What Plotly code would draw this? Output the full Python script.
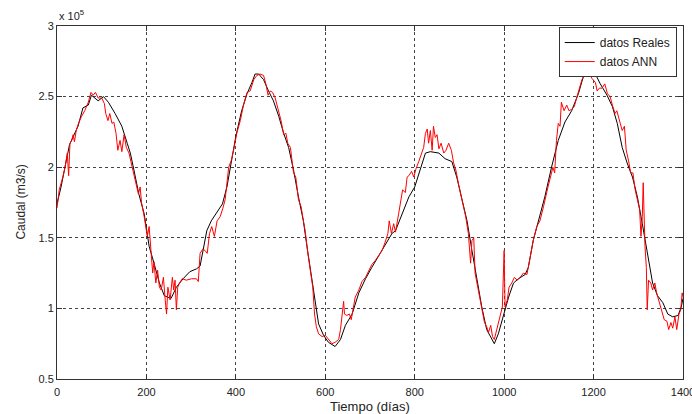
import plotly.graph_objects as go

# Observed (black) series: day, flow in units of 1e5 m3/s
real_days = [0, 9, 28, 47, 58, 70, 77, 92, 104, 115, 130, 145, 157, 164, 172, 183, 195, 206, 217, 229,
             240, 255, 267, 282, 297, 312, 320, 327, 335, 345, 358, 370, 380, 390, 400,
             413, 425, 436, 443, 451, 462, 473, 484, 496, 507, 518, 529, 540, 551, 559, 570, 578, 585,
             596, 607, 622, 634, 645, 660, 675, 690, 704, 719, 734, 749,
             757, 772, 787, 800, 813, 824, 835, 854, 868, 883, 894, 906, 917, 928, 939, 950, 961, 972,
             978, 987, 999, 1010, 1021, 1032, 1047, 1054, 1065, 1077, 1091,
             1106, 1121, 1136, 1151, 1166, 1177, 1192, 1204, 1215, 1230, 1242, 1253, 1264, 1275, 1287,
             1298, 1309, 1321, 1332, 1343, 1355, 1366, 1377, 1389, 1396, 1400]
real_vals = [1.74, 1.86, 2.16, 2.29, 2.42, 2.44, 2.51, 2.47, 2.50, 2.46, 2.38, 2.29, 2.17, 2.10, 1.98, 1.81, 1.67, 1.44, 1.32, 1.18,
             1.09, 1.07, 1.15, 1.21, 1.26, 1.28, 1.30, 1.42, 1.55, 1.62, 1.68, 1.74, 1.86, 2.05, 2.22,
             2.40, 2.52, 2.60, 2.66, 2.66, 2.62, 2.54, 2.47, 2.36, 2.24, 2.14, 1.98, 1.79, 1.62, 1.44, 1.22, 1.04, 0.89,
             0.81, 0.76, 0.73, 0.78, 0.88, 0.96, 1.11, 1.21, 1.29, 1.37, 1.46, 1.53,
             1.55, 1.67, 1.79, 1.86, 2.00, 2.10, 2.11, 2.10, 2.06, 2.04, 1.93, 1.77, 1.62, 1.41, 1.20, 1.01, 0.85, 0.79,
             0.75, 0.82, 0.96, 1.08, 1.18, 1.21, 1.24, 1.29, 1.48, 1.62, 1.79,
             2.00, 2.19, 2.32, 2.40, 2.52, 2.64, 2.68, 2.66, 2.59, 2.51, 2.43, 2.31, 2.14, 2.03, 1.93,
             1.79, 1.60, 1.39, 1.18, 1.09, 1.04, 0.96, 0.94, 0.95, 1.01, 1.07]

# ANN (red) series
ann_days = [0, 5, 13, 18, 23, 26, 29, 33, 36, 39, 43, 48, 55, 62, 70, 76, 81, 86, 92, 100,
            106, 109, 114, 118, 123, 127, 132, 136, 141, 145, 150, 155, 161, 168, 176, 182, 186, 189, 195, 198,
            202, 206, 210, 214, 217, 221, 225, 229, 233, 238, 242, 245, 248, 253, 258, 261, 264, 267, 270, 274,
            280, 289, 301, 312, 316, 320, 326, 331, 336, 341, 346, 352, 358, 365, 371,
            376, 384, 390, 395, 402, 410, 417, 425, 432, 440, 447, 454, 462, 467, 472, 477, 482, 488, 496,
            501, 507, 512, 516, 522, 529, 534, 540, 546, 551, 555, 561, 566, 572, 576, 580, 585, 593, 600,
            607, 615, 622, 630, 634, 637, 641, 643, 648, 654, 658, 663, 667, 675, 682, 690, 697, 704, 712,
            719, 727, 734, 740, 743, 748, 753,
            757, 764, 770, 773, 779, 783, 787, 793, 798, 803, 809, 815, 820, 824, 828, 831, 835, 839, 842,
            846, 850, 854, 859, 865, 870, 876, 882, 887, 892, 898, 904, 909, 914, 920, 925, 928, 932, 935,
            941, 946, 952, 956, 961, 965, 970, 974, 978, 983, 987, 992, 996, 1000, 1002, 1007, 1011, 1017,
            1023, 1029, 1036, 1043, 1051, 1054, 1060, 1065, 1073, 1080, 1088,
            1091, 1098, 1106, 1109, 1113, 1117, 1121, 1125, 1128, 1134, 1140, 1145, 1151, 1157, 1162, 1168,
            1174, 1180, 1185, 1190, 1196, 1204, 1208, 1213, 1219, 1225, 1231, 1237, 1242, 1248, 1252, 1258,
            1264, 1269, 1273, 1278, 1283, 1288, 1293, 1298, 1303, 1306, 1309, 1311, 1313, 1315, 1318, 1320,
            1323, 1328, 1332, 1337, 1341, 1347, 1353, 1358, 1364, 1368, 1373, 1377, 1382, 1386, 1391, 1395,
            1398, 1402]
ann_vals = [1.71, 1.84, 1.93, 2.00, 2.10, 1.94, 2.17, 2.19, 2.23, 2.18, 2.26, 2.31, 2.36, 2.40, 2.46, 2.53, 2.51, 2.53, 2.49, 2.49,
            2.45, 2.38, 2.33, 2.38, 2.31, 2.32, 2.24, 2.12, 2.19, 2.11, 2.23, 2.14, 2.10, 2.00, 1.88, 1.81, 1.86, 1.75, 1.65, 1.58,
            1.51, 1.58, 1.39, 1.25, 1.33, 1.18, 1.27, 1.15, 1.13, 1.22, 1.06, 0.96, 1.15, 1.06, 1.22, 1.13, 1.20, 0.99, 1.15, 1.18,
            1.21, 1.20, 1.21, 1.21, 1.19, 1.39, 1.42, 1.41, 1.39, 1.53, 1.58, 1.51, 1.62, 1.65, 1.71,
            1.77, 2.00, 2.05, 2.12, 2.24, 2.33, 2.44, 2.53, 2.54, 2.62, 2.65, 2.66, 2.65, 2.59, 2.51, 2.54, 2.53, 2.49, 2.40,
            2.33, 2.23, 2.24, 2.17, 2.14, 1.96, 1.93, 1.77, 1.72, 1.62, 1.55, 1.39, 1.29, 1.15, 0.96, 0.87, 0.82, 0.80, 0.81,
            0.78, 0.75, 0.76, 0.78, 0.85, 0.94, 1.05, 0.96, 0.95, 0.96, 0.92, 1.01, 1.08, 1.13, 1.19, 1.22, 1.26, 1.31, 1.34,
            1.37, 1.41, 1.47, 1.53, 1.62, 1.53, 1.60,
            1.54, 1.67, 1.77, 1.84, 1.82, 1.93, 1.94, 1.97, 1.93, 1.99, 2.04, 2.10, 2.14, 2.24, 2.27, 2.17, 2.26, 2.12, 2.29,
            2.21, 2.23, 2.13, 2.17, 2.10, 2.12, 2.17, 2.12, 2.03, 1.98, 1.88, 1.79, 1.74, 1.65, 1.53, 1.32, 1.48, 1.50, 1.25,
            1.15, 1.08, 0.96, 0.90, 0.87, 0.83, 0.88, 0.80, 0.78, 0.85, 0.90, 0.96, 1.01, 1.41, 1.01, 1.06, 1.15, 1.18,
            1.22, 1.20, 1.22, 1.25, 1.24, 1.29, 1.41, 1.48, 1.58, 1.62, 1.72,
            1.77, 1.86, 1.96, 2.00, 1.96, 2.19, 2.31, 2.29, 2.46, 2.40, 2.44, 2.40, 2.41, 2.43, 2.49, 2.56,
            2.62, 2.65, 2.66, 2.67, 2.63, 2.60, 2.54, 2.56, 2.56, 2.59, 2.52, 2.50, 2.44, 2.38, 2.40, 2.33,
            2.26, 2.29, 2.12, 2.05, 1.96, 1.96, 1.84, 1.77, 1.70, 1.51, 1.65, 1.89, 1.58, 1.44, 1.29, 0.99,
            1.20, 1.18, 1.13, 1.18, 1.11, 1.04, 0.99, 0.92, 0.91, 0.85, 0.90, 0.86, 0.94, 0.85, 0.96, 0.99,
            1.11, 1.06]

x_ticks = [0, 200, 400, 600, 800, 1000, 1200, 1400]
y_ticks = [0.5, 1, 1.5, 2, 2.5, 3]
y_tick_labels = ["0.5", "1", "1.5", "2", "2.5", "3"]

FONT = "Liberation Sans, Arial, sans-serif"

fig = go.Figure()
fig.add_trace(go.Scatter(x=real_days, y=real_vals, mode="lines", name="datos Reales",
                         line=dict(color="black", width=1)))
fig.add_trace(go.Scatter(x=ann_days, y=ann_vals, mode="lines", name="datos ANN",
                         line=dict(color="red", width=1)))

axis_common = dict(showline=True, linecolor="#333333", linewidth=1, mirror="ticks",
                   ticks="inside", ticklen=5, tickcolor="#333333",
                   showgrid=True, gridcolor="#444444", griddash="3px,3px", gridwidth=1,
                   zeroline=False, tickfont=dict(family=FONT, size=11, color="#222222"),
                   automargin=False, ticklabeloverflow="allow")

fig.update_xaxes(range=[0, 1400], tickvals=x_ticks, ticklabelstandoff=3, **axis_common)
fig.update_yaxes(range=[0.5, 3], tickvals=y_ticks, ticktext=y_tick_labels, **axis_common)

fig.update_layout(
    width=692, height=414,
    margin=dict(l=57, r=9, t=26, b=35),
    paper_bgcolor="white", plot_bgcolor="white",
    font=dict(family=FONT, size=12, color="#222222"),
    showlegend=True,
    legend=dict(x=0.99, y=0.997, xanchor="right", yanchor="top",
                bgcolor="white", bordercolor="#333333", borderwidth=1,
                font=dict(family=FONT, size=12, color="#222222"),
                tracegroupgap=0, itemwidth=30),
    annotations=[
        dict(text="Tiempo (días)", xref="paper", yref="paper", x=0.5, y=-0.05,
             xanchor="center", yanchor="top", showarrow=False,
             font=dict(family=FONT, size=13, color="#222222")),
        dict(text="Caudal (m3/s)", xref="paper", yref="paper", x=-0.059, y=0.5,
             xanchor="center", yanchor="middle", textangle=-90, showarrow=False,
             font=dict(family=FONT, size=12, color="#222222")),
        dict(text="x 10<sup>5</sup>", xref="paper", yref="paper", x=0.0, y=1.005,
             xanchor="left", yanchor="bottom", showarrow=False,
             font=dict(family=FONT, size=11, color="#222222")),
    ],
)

fig.write_html("out.html")
